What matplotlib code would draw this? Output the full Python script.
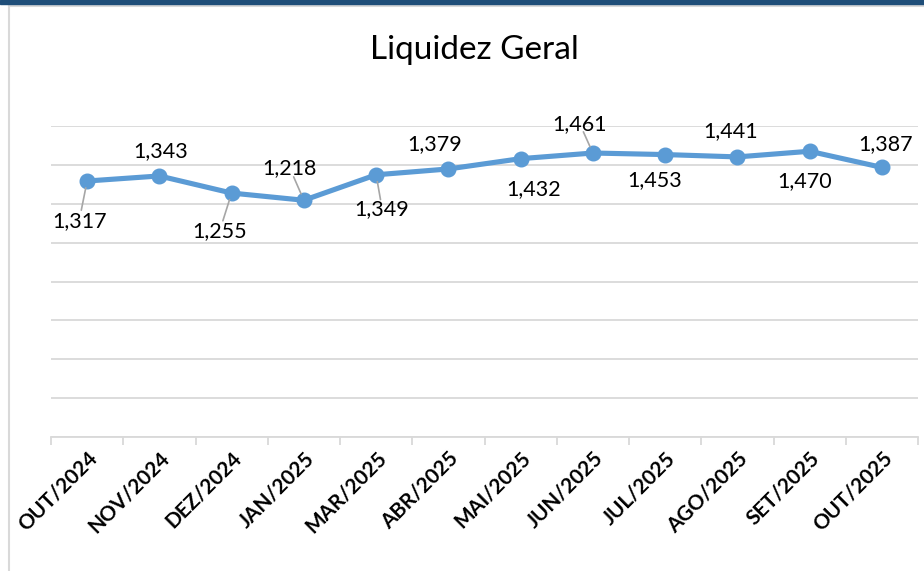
import matplotlib.pyplot as plt
from matplotlib.lines import Line2D
from matplotlib.patches import Rectangle

meses = ['OUT/2024', 'NOV/2024', 'DEZ/2024', 'JAN/2025', 'MAR/2025', 'ABR/2025',
         'MAI/2025', 'JUN/2025', 'JUL/2025', 'AGO/2025', 'SET/2025', 'OUT/2025']
liquidez = [1.317, 1.343, 1.255, 1.218, 1.349, 1.379,
            1.432, 1.461, 1.453, 1.441, 1.470, 1.387]
rotulos = ['1,317', '1,343', '1,255', '1,218', '1,349', '1,379',
           '1,432', '1,461', '1,453', '1,441', '1,470', '1,387']

# label offsets in pixels (dx, dy) from each point, and whether a leader line is drawn
offsets = [(-8, -40), (1, 25), (-12, -38), (-14, 32), (6, -34), (-14, 25),
           (13, -30), (-13, 29), (-10, -26), (-7, 26), (-5, -30), (4, 23)]
leaders = [True, False, True, True, True, False, False, True, False, False, False, False]

plt.rcParams['font.family'] = ['Lato', 'DejaVu Sans']

fig = plt.figure(figsize=(9.24, 5.71), dpi=100)
ax = fig.add_axes([51 / 924, 134 / 571, 867 / 924, 311 / 571])

x = list(range(len(meses)))
ax.plot(x, liquidez, color='#5B9BD5', linewidth=3.7, marker='o', markersize=10.5,
        solid_capstyle='round', solid_joinstyle='round', zorder=3)

ax.set_xlim(-0.5, len(meses) - 0.5)
ax.set_ylim(0, 1.6)
ax.set_yticks([i * 0.2 for i in range(9)])
ax.yaxis.grid(True, color='#D9D9D9', linewidth=1.3)
ax.set_axisbelow(True)
ax.tick_params(axis='y', left=False, labelleft=False)

ax.set_xticks(x)
ax.set_xticklabels(meses, rotation=45, ha='right', rotation_mode='anchor',
                   fontsize=15, fontweight='bold', color='#000000')
ax.tick_params(axis='x', length=0, pad=8)
ax.set_xticks([i - 0.5 for i in range(len(meses) + 1)], minor=True)
ax.tick_params(axis='x', which='minor', length=6, width=1.3, color='#D9D9D9')

for s in ['top', 'right', 'left']:
    ax.spines[s].set_visible(False)
ax.spines['bottom'].set_color('#D9D9D9')
ax.spines['bottom'].set_linewidth(1.3)

px = 72 / fig.dpi
for i, (v, t) in enumerate(zip(liquidez, rotulos)):
    dx, dy = offsets[i]
    ax.annotate(t, (i, v), xytext=(dx * px, dy * px), textcoords='offset points',
                ha='center', va='center', fontsize=15.5, color='#000000', zorder=4)
    if leaders[i]:
        ux = dx * 0.45
        uy = dy * 0.45
        ax.annotate('', (i, v), xytext=((dx - ux * 0.6) * px, (dy - uy * 0.6) * px),
                    textcoords='offset points',
                    arrowprops=dict(arrowstyle='-', color='#A6A6A6', lw=1.2,
                                    shrinkA=0, shrinkB=5))

fig.text(474 / 924, 1 - 50 / 571, 'Liquidez Geral', ha='center', va='center',
         fontsize=24, color='#000000')

# frame and top bar
fig.add_artist(Rectangle((0, 1 - 4 / 571), 1, 4 / 571, transform=fig.transFigure,
                         color='#1F4E79', zorder=5))
fig.add_artist(Line2D([8.5 / 924, 1], [1 - 5.5 / 571, 1 - 5.5 / 571],
                      transform=fig.transFigure, color='#D9D9D9', lw=1.5))
fig.add_artist(Line2D([8.5 / 924, 8.5 / 924], [0, 1 - 5.5 / 571],
                      transform=fig.transFigure, color='#D9D9D9', lw=1.5))

fig.savefig('out.png', dpi=100)
